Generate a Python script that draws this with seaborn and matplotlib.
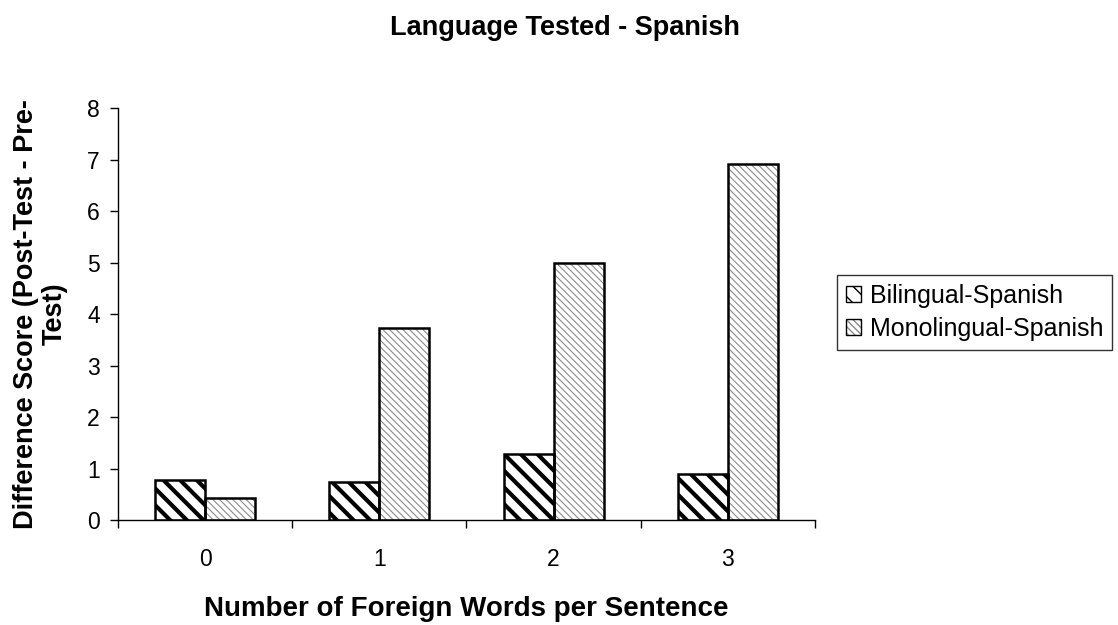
import pandas as pd
import numpy as np
import matplotlib
matplotlib.use("Agg")
import matplotlib.pyplot as plt
import matplotlib.patches as mpatches
import seaborn as sns

# ---------------------------------
# Data
# ---------------------------------

categories = ["0", "1", "2", "3"]
bilingual = [0.78, 0.74, 1.28, 0.90]
monolingual = [0.43, 3.72, 5.00, 6.92]
series_names = ["Bilingual-Spanish", "Monolingual-Spanish"]

df = pd.DataFrame({
    "words": categories * 2,
    "score": bilingual + monolingual,
    "group": [series_names[0]] * 4 + [series_names[1]] * 4,
})

# ---------------------------------
# Style
# ---------------------------------

sns.set_style("white")
plt.rcParams["font.family"] = ["Liberation Sans", "DejaVu Sans"]
for key in ["text.color", "axes.labelcolor", "xtick.color", "ytick.color"]:
    plt.rcParams[key] = "black"

fig = plt.figure(figsize=(11.18, 6.25), dpi=100)
ax = fig.add_axes([0.1055, 0.168, 0.6235, 0.659])

# hatch look: heavy black for bilingual, fine grey for monolingual
styles = [
    dict(hatch="\\\\", hcolor="black", hlw=3.0),
    dict(hatch="\\\\\\\\\\", hcolor="#8c8c8c", hlw=0.8),
]

# hatched fill (hatch takes the edge colour)
sns.barplot(
    data=df, x="words", y="score", hue="group",
    palette=["white", "white"], width=0.575, gap=0,
    linewidth=0, saturation=1,
    errorbar=None, legend=False, ax=ax,
)
for cont, st in zip(ax.containers, styles):
    for p in cont.patches:
        p.set_hatch(st["hatch"])
        p.set_edgecolor(st["hcolor"])
        if hasattr(p, "set_hatch_linewidth"):
            p.set_hatch_linewidth(st["hlw"])
        else:
            plt.rcParams["hatch.linewidth"] = st["hlw"]

# black outlines on top
sns.barplot(
    data=df, x="words", y="score", hue="group",
    palette=["black", "black"], width=0.575, gap=0,
    fill=False, linewidth=1.8, saturation=1,
    errorbar=None, legend=False, ax=ax,
)

# ---------------------------------
# Axes
# ---------------------------------

ax.set_ylim(0, 8)
ax.set_yticks(range(0, 9))
ax.set_xlim(-0.5, 3.5)
ax.set_xticks(range(4))
ax.set_xticklabels(categories)
ax.set_xticks(np.arange(-0.5, 4.0, 1.0), minor=True)
ax.tick_params(axis="x", which="major", length=0, labelsize=16.5, pad=20)
ax.tick_params(axis="x", which="minor", direction="out", length=6, width=1, color="black", bottom=True)
ax.tick_params(axis="y", direction="out", length=6, width=1, color="black", left=True, labelsize=16.5, pad=7)

sns.despine(ax=ax)
for s in ["left", "bottom"]:
    ax.spines[s].set_color("black")
    ax.spines[s].set_linewidth(1.0)

ax.set_xlabel("Number of Foreign Words per Sentence", fontsize=20, fontweight="bold", labelpad=18)
ax.set_ylabel("Difference Score (Post-Test - Pre-\nTest)", fontsize=19.5, fontweight="bold",
              labelpad=14, linespacing=1.15)

fig.suptitle("Language Tested - Spanish", fontsize=19.5, fontweight="bold", x=0.505, y=0.955, va="center")

# ---------------------------------
# Legend
# ---------------------------------

handles = []
for name, st in zip(series_names, styles):
    h_fill = mpatches.Patch(facecolor="white", edgecolor=st["hcolor"], hatch=st["hatch"], linewidth=0)
    if hasattr(h_fill, "set_hatch_linewidth"):
        h_fill.set_hatch_linewidth(st["hlw"] * 0.8)
    h_edge = mpatches.Patch(facecolor="none", edgecolor="black", linewidth=1.0)
    handles.append((h_fill, h_edge))

leg = fig.legend(
    handles=handles, labels=series_names, loc="center left", bbox_to_anchor=(0.749, 0.5),
    fontsize=18, frameon=True, fancybox=False, handlelength=0.6, handleheight=0.6,
    handletextpad=0.35, borderpad=0.35, labelspacing=0.35, borderaxespad=0,
)
leg.get_frame().set_edgecolor("black")
leg.get_frame().set_linewidth(1.0)

fig.savefig("out.png", dpi=100)
